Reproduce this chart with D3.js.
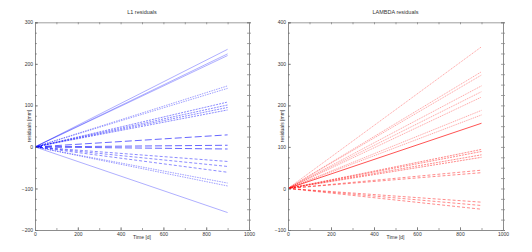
<!DOCTYPE html>
<html lang="en">
<head>
  <meta charset="UTF-8">
  <title>residuals</title>
  <script src="https://cdn.jsdelivr.net/npm/d3@7"></script>
  <style>
    body { margin: 0; background: #fff; }
    svg text { font-family: "Liberation Sans", Arial, sans-serif; fill: #333; }
  </style>
</head>
<body>
  <svg class="svg"></svg>
  <script>
    // time axis: every residual line runs from t = 0 to t = 900 days
    const times = [0, 900];
    const xTicks = [0, 200, 400, 600, 800, 1000];

    // L1 residuals, value at t = 900 [mm]
    const l1End = [235, 224, 220, 147, 141, 108, 101, 95, 89, 29, 4, -5, -35, -47, -61, -87, -94, -158];
    const l1Kind = ['s', 's', 's', 'd', 'd', 'f', 'f', 'f', 'f', 'l', 'l', 'l', 'm', 'm', 'm', 'd', 'd', 's'];
    const l1Ticks = [-200, -100, 0, 100, 200, 300];

    // LAMBDA residuals, value at t = 900 [mm]
    const lamEnd = [341, 281, 273, 247, 233, 220, 188, 177, 157, 94, 89, 81, 75, 44, 38, -33, -41, -50];
    const lamKind = ['o', 'o', 'o', 'o', 'o', 'o', 'o', 'o', 'S', 'f', 'f', 'f', 'f', 'm', 'm', 'm', 'm', 'm'];
    const lamTicks = [-100, 0, 100, 200, 300, 400];

    const lineStyle = {
      s: { dash: null, op: 0.45, w: 0.7 },
      S: { dash: null, op: 0.85, w: 0.8 },
      o: { dash: '1.2,0.8', op: 0.5, w: 0.7 },
      d: { dash: '1.5,1', op: 0.55, w: 0.7 },
      f: { dash: '2,1', op: 0.65, w: 0.7 },
      m: { dash: '3,2', op: 0.65, w: 0.7 },
      l: { dash: '7,3', op: 0.75, w: 0.8 }
    };

    const svg = d3.select('.svg')
      .attr('width', 532)
      .attr('height', 252);

    function panel(opt) {
      const x = d3.scaleLinear().domain([0, 1000]).range([opt.left, opt.right]);
      const y = d3.scaleLinear().domain(opt.yDomain).range([230, 22.3]);
      const g = svg.append('g');

      // lines
      const line = d3.line().x(d => x(d[0])).y(d => y(d[1]));
      opt.ends.forEach((v, i) => {
        const st = lineStyle[opt.kinds[i]];
        g.append('path')
          .attr('d', line([[times[0], 0], [times[1], v]]))
          .attr('fill', 'none')
          .attr('stroke', opt.color)
          .attr('stroke-width', st.w)
          .attr('stroke-opacity', st.op)
          .attr('stroke-dasharray', st.dash);
      });

      const minorX = d3.range(0, 1001, 100);
      const minorY = d3.range(opt.yDomain[0], opt.yDomain[1] + 1, 25);
      const fmt = d3.format('d');

      const axes = [
        [d3.axisBottom(x).tickValues(xTicks).tickSize(-3).tickPadding(2).tickFormat(fmt), 'translate(0,230)'],
        [d3.axisBottom(x).tickValues(minorX).tickSize(-2).tickFormat(''), 'translate(0,230)'],
        [d3.axisTop(x).tickValues(minorX).tickSize(-2).tickFormat(''), 'translate(0,22.3)'],
        [d3.axisLeft(y).tickValues(opt.yTicks).tickSize(-3).tickPadding(2).tickFormat(fmt), `translate(${opt.left},0)`],
        [d3.axisLeft(y).tickValues(minorY).tickSize(-2).tickFormat(''), `translate(${opt.left},0)`],
        [d3.axisRight(y).tickValues(minorY).tickSize(2).tickFormat(''), `translate(${opt.right},0)`],
        [d3.axisRight(y).tickValues(minorY).tickSize(-2).tickFormat(''), `translate(${opt.right},0)`]
      ];
      axes.forEach(([ax, tr]) => {
        const a = g.append('g').attr('transform', tr).call(ax);
        a.selectAll('path.domain').attr('stroke', '#888').attr('stroke-width', 0.8);
        a.selectAll('line').attr('stroke', '#666').attr('stroke-width', 0.6);
        a.selectAll('text').attr('font-size', 5).attr('fill', '#444');
      });

      const cx = (opt.left + opt.right) / 2;
      g.append('text').attr('x', cx).attr('y', 14).attr('text-anchor', 'middle')
        .attr('font-size', 5.5).text(opt.title);
      g.append('text').attr('x', cx).attr('y', 239).attr('text-anchor', 'middle')
        .attr('font-size', 5).text('Time [d]');
      g.append('text')
        .attr('transform', `translate(${opt.left - 4.5},126) rotate(-90)`)
        .attr('text-anchor', 'middle').attr('font-size', 5)
        .text('residuals [mm]');
    }

    panel({ left: 35, right: 249, yDomain: [-200, 300], yTicks: l1Ticks,
            ends: l1End, kinds: l1Kind, color: '#0000ff', title: 'L1 residuals' });
    panel({ left: 288, right: 503, yDomain: [-100, 400], yTicks: lamTicks,
            ends: lamEnd, kinds: lamKind, color: '#ff0000', title: 'LAMBDA residuals' });
  </script>
</body>
</html>
